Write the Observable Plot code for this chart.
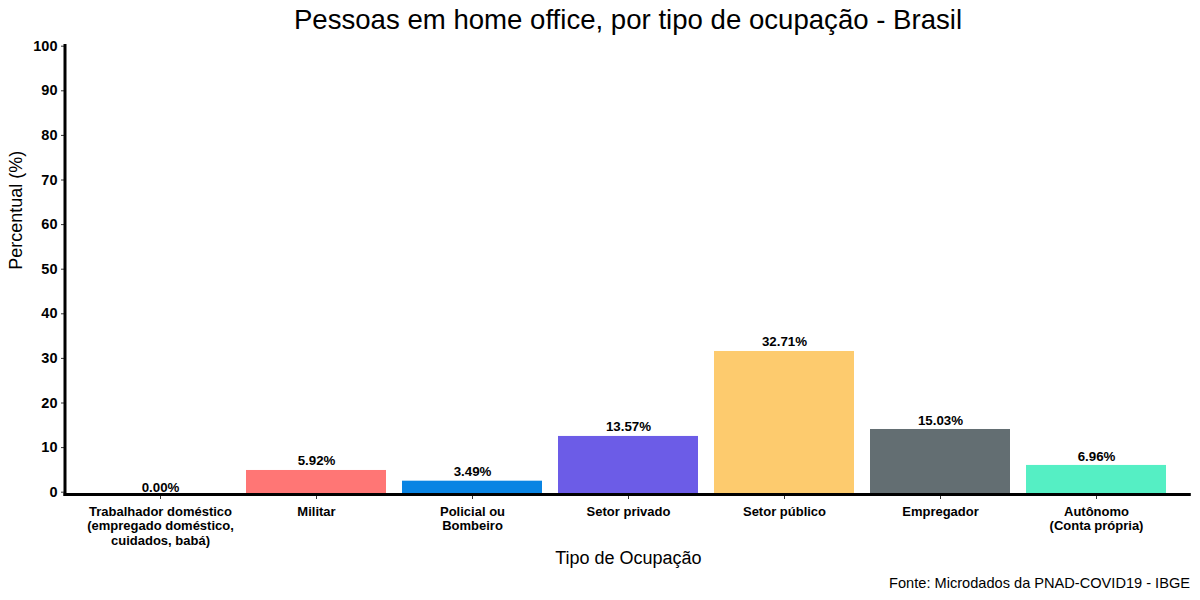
<!DOCTYPE html>
<html>
<head>
<meta charset="utf-8">
<script src="https://cdn.jsdelivr.net/npm/d3@7"></script>
<script src="https://cdn.jsdelivr.net/npm/@observablehq/plot@0.6"></script>
<style>
  html, body { margin: 0; padding: 0; background: #fff; }
  body { width: 1200px; height: 600px; overflow: hidden; font-family: "Liberation Sans", Arial, sans-serif; }
  #title { height: 30px; font-size: 27.6px; color: #000; position: relative; z-index: 2; }
  #title span { position: absolute; left: 628px; top: 0; line-height: 40px; transform: translateX(-50%); white-space: nowrap; }
  #caption { height: 30px; line-height: 26px; font-size: 14.6px; color: #000; text-align: right; padding-right: 10px; }
  svg { display: block; }
</style>
</head>
<body>
<div id="title"><span>Pessoas em home office, por tipo de ocupação - Brasil</span></div>
<div id="chart"></div>
<div id="caption">Fonte: Microdados da PNAD-COVID19 - IBGE</div>
<script>
// Categories (x axis)
const categories = [
  "Trabalhador doméstico",
  "Militar",
  "Policial ou Bombeiro",
  "Setor privado",
  "Setor público",
  "Empregador",
  "Autônomo"
];
// Tick labels as drawn (with line breaks)
const tickLabels = [
  "Trabalhador doméstico\n(empregado doméstico,\ncuidados, babá)",
  "Militar",
  "Policial ou\nBombeiro",
  "Setor privado",
  "Setor público",
  "Empregador",
  "Autônomo\n(Conta própria)"
];
// Value labels printed above bars (%)
const labelValues = [0.00, 5.92, 3.49, 13.57, 32.71, 15.03, 6.96];
// Bar heights as drawn in the picture (%)
const barHeights = [0.0, 4.87, 2.47, 12.5, 31.55, 14.06, 6.0];
// Bar colours
const colors = ["#E17055", "#FF7675", "#0984E3", "#6C5CE7", "#FDCB6E", "#636E72", "#55EFC4"];
// Y ticks
const yTicks = [0, 10, 20, 30, 40, 50, 60, 70, 80, 90, 100];

const data = categories.map((c, i) => ({
  cat: c, bar: barHeights[i], label: labelValues[i], color: colors[i], tick: tickLabels[i]
}));
const tickMap = new Map(data.map(d => [d.cat, d.tick]));

const W = 1200, H = 540;
const mL = 65, mR = 9.2, mT = 14, mB = 75.5;

const axisLines = (index, scales, values, dims) => {
  const g = d3.create("svg:g");
  const x0 = dims.marginLeft, x1 = dims.width - dims.marginRight;
  const y0 = dims.marginTop, y1 = dims.height - dims.marginBottom;
  g.append("line").attr("x1", x0).attr("x2", x0).attr("y1", y0).attr("y2", y1 + 1.5)
    .attr("stroke", "#000").attr("stroke-width", 3);
  g.append("line").attr("x1", x0 - 1.5).attr("x2", x1).attr("y1", y1).attr("y2", y1)
    .attr("stroke", "#000").attr("stroke-width", 3);
  return g.node();
};

const chart = Plot.plot({
  width: W,
  height: H,
  marginLeft: mL,
  marginRight: mR,
  marginTop: mT,
  marginBottom: mB,
  style: { fontFamily: "Liberation Sans, Arial, sans-serif", background: "transparent", color: "#000" },
  x: { domain: categories, paddingInner: 0.1, paddingOuter: 0.15, label: null },
  y: { domain: [0, 100], range: [461.7, 15.7], label: null },
  marks: [
    Plot.barY(data, { x: "cat", y: "bar", fill: "color", insetBottom: -1.5, filter: d => d.bar > 0 }),
    Plot.text(data, {
      x: "cat", y: "label", text: d => d.label.toFixed(2) + "%",
      fontWeight: "bold", fontSize: 13.3, lineAnchor: "middle", dy: -4.8, fill: "#000"
    }),
    Plot.axisY({
      ticks: yTicks, tickSize: 4, tickPadding: 4, fontSize: 14.5, fontWeight: "bold",
      stroke: "#333", label: null, fill: "#000"
    }),
    Plot.axisX({
      tickSize: 4.5, tickPadding: 6, fontSize: 13, fontWeight: "bold", lineHeight: 1.12,
      tickFormat: d => tickMap.get(d), stroke: "#333", label: null, fill: "#000"
    }),
    Plot.text(["Tipo de Ocupação"], {
      frameAnchor: "bottom", fontSize: 18, dy: 63, lineAnchor: "middle", fill: "#000"
    }),
    Plot.text(["Percentual (%)"], {
      frameAnchor: "left", fontSize: 18, rotate: -90, dx: -49, lineAnchor: "middle", fill: "#000"
    }),
    axisLines
  ]
});
document.getElementById("chart").appendChild(chart);
</script>
</body>
</html>
